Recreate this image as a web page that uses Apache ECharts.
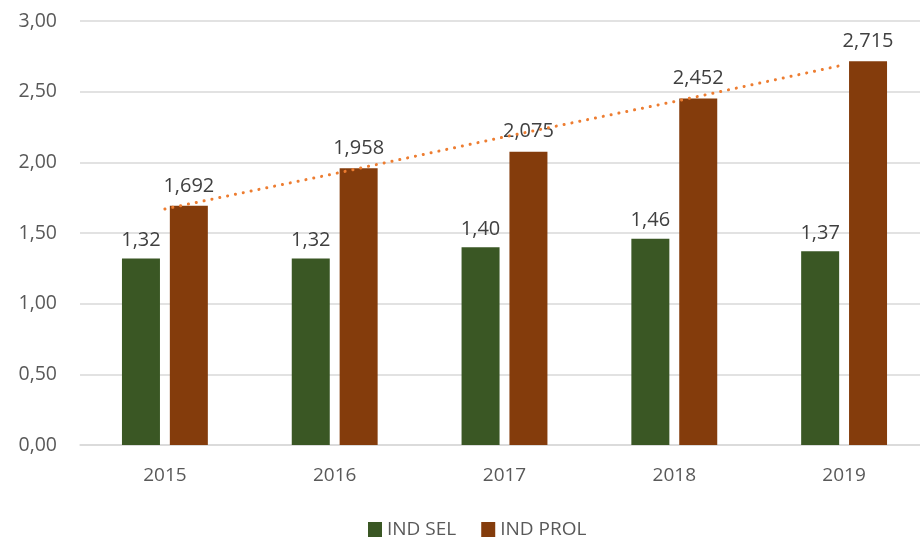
<!DOCTYPE html>
<html><head><meta charset="utf-8">
<script src="https://cdn.jsdelivr.net/npm/echarts@6/dist/echarts.min.js"></script>
<style>html,body{margin:0;padding:0;background:#fff;overflow:hidden}#c{width:929px;height:538px}</style>
</head><body><div id="c"></div>
<script>
var categories = ['2015','2016','2017','2018','2019'];
var indSel = [1.32, 1.32, 1.40, 1.46, 1.37];
var indProl = [1.692, 1.958, 2.075, 2.452, 2.715];
var trendProl = [1.67, 1.92, 2.18, 2.43, 2.69];
var selLabels = ['1,32','1,32','1,40','1,46','1,37'];
var prolLabels = ['1,692','1,958','2,075','2,452','2,715'];
var FONT = '"Open Sans", "Liberation Sans", sans-serif';
var chart = echarts.init(document.getElementById('c'), null, {renderer:'canvas'});
chart.setOption({
  animation:false,
  textStyle:{fontFamily:FONT},
  grid:{left:80,right:0,top:21,bottom:93},
  legend:{
    top:518,left:363,itemWidth:14,itemHeight:15,itemGap:25,padding:[2,5,2,5],
    data:[{name:'IND SEL',icon:'rect'},{name:'IND PROL',icon:'rect'}],
    textStyle:{fontSize:19,color:'#595959',fontFamily:FONT}
  },
  xAxis:{type:'category',data:categories,
    axisLine:{lineStyle:{color:'#D9D9D9',width:1.5}},axisTick:{show:false},
    axisLabel:{fontSize:19,color:'#595959',margin:21,fontFamily:FONT}},
  yAxis:{type:'value',min:0,max:3,interval:0.5,
    axisLine:{show:false},axisTick:{show:false},
    splitLine:{lineStyle:{color:'#D9D9D9',width:1.5}},
    axisLabel:{fontSize:19.5,color:'#595959',margin:23,fontFamily:FONT,
      formatter:function(v){return v.toFixed(2).replace('.',',');}}},
  series:[
    {name:'IND SEL',type:'bar',data:indSel,barWidth:38,barGap:'26%',
     itemStyle:{color:'#3A5724'},
     label:{show:true,position:'top',distance:8,fontSize:20,color:'#404040',fontFamily:FONT,
       formatter:function(p){return selLabels[p.dataIndex];}}},
    {name:'IND PROL',type:'bar',data:indProl,barWidth:38,
     itemStyle:{color:'#843C0C'},
     label:{show:true,position:'top',distance:10,fontSize:20,color:'#404040',fontFamily:FONT,
       formatter:function(p){return prolLabels[p.dataIndex];}}},
    {name:'Trend',type:'line',data:trendProl,symbol:'none',z:5,
     lineStyle:{color:'#ED7D31',width:3,type:[0.1,7.9],cap:'round'}}
  ]
});
</script></body></html>
